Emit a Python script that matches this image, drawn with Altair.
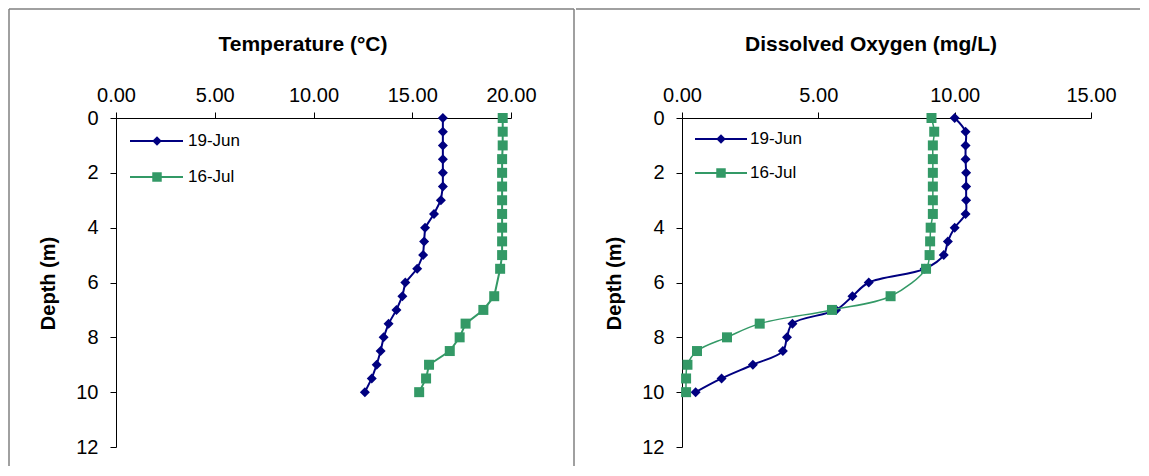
import altair as alt
import pandas as pd

FONT = "Liberation Sans, Arial, sans-serif"

series = ["19-Jun", "16-Jul"]
colors = ["#000080", "#339966"]
shapes = ["diamond", "square"]

depth_jun = [0, 0.5, 1, 1.5, 2, 2.5, 3, 3.5, 4, 4.5, 5, 5.5, 6, 6.5, 7, 7.5, 8, 8.5, 9, 9.5, 10]
depth_jul = [0, 0.5, 1, 1.5, 2, 2.5, 3, 3.5, 4, 4.5, 5, 5.5, 6.5, 7, 7.5, 8, 8.5, 9, 9.5, 10]

temp_jun = [16.55, 16.55, 16.55, 16.55, 16.55, 16.55, 16.45, 16.1, 15.65, 15.6, 15.55,
            15.25, 14.65, 14.5, 14.2, 13.8, 13.55, 13.4, 13.2, 12.95, 12.6]
temp_jul = [19.58, 19.58, 19.58, 19.55, 19.55, 19.55, 19.55, 19.55, 19.55, 19.55, 19.55,
            19.45, 19.15, 18.6, 17.7, 17.4, 16.9, 15.85, 15.7, 15.35]

do_jun = [10.0, 10.4, 10.4, 10.4, 10.42, 10.42, 10.42, 10.4, 10.0, 9.75, 9.6,
          8.9, 6.85, 6.25, 5.65, 4.05, 3.85, 3.7, 2.6, 1.45, 0.5]
do_jul = [9.15, 9.25, 9.2, 9.2, 9.2, 9.2, 9.2, 9.2, 9.12, 9.1, 9.08,
          8.95, 7.65, 5.5, 2.85, 1.65, 0.55, 0.2, 0.15, 0.15]

depth_ticks = [0, 2, 4, 6, 8, 10, 12]
temp_ticks = [0, 5, 10, 15, 20]
do_ticks = [0, 5, 10, 15]

one = pd.DataFrame({"k": [0]})


def make_df(v_jun, v_jul):
    rows = []
    for d, v in zip(depth_jun, v_jun):
        rows.append({"series": series[0], "depth": d, "value": v})
    for d, v in zip(depth_jul, v_jul):
        rows.append({"series": series[1], "depth": d, "value": v})
    return pd.DataFrame(rows)


def panel(title, v_jun, v_jul, xmax, xticks, width, interp, widths,
          title_xy, leg, frame):
    df = make_df(v_jun, v_jul)
    X = alt.X("value:Q",
              scale=alt.Scale(domain=[0, xmax], nice=False, zero=True),
              axis=alt.Axis(orient="top", values=xticks, format=".2f", title=None,
                            labelFontSize=20, labelFont=FONT, labelColor="black",
                            domainColor="black", tickColor="black", tickSize=6,
                            labelPadding=7, grid=False, labelFlush=False,
                            labelOverlap=False))
    Y = alt.Y("depth:Q",
              scale=alt.Scale(domain=[0, 12], reverse=True, nice=False),
              axis=alt.Axis(values=depth_ticks, format="d", title="Depth (m)",
                            labelFontSize=20, labelFont=FONT, labelColor="black",
                            domainColor="black", tickColor="black", tickSize=6,
                            labelPadding=12, grid=False, labelFlush=False,
                            titleFont=FONT, titleFontSize=20, titleFontWeight="bold",
                            titleColor="black", titleX=-68, titleY=165,
                            titleAngle=270, titleAlign="center",
                            titleBaseline="middle"))
    layers = []
    for s, c, sh, w in zip(series, colors, shapes, widths):
        b = alt.Chart(df).transform_filter(alt.datum.series == s)
        layers.append(b.mark_line(color=c, strokeWidth=w, interpolate=interp)
                      .encode(x=X, y=Y, order="depth:Q"))
        layers.append(b.mark_point(shape=sh, filled=True, size=100, color=c, opacity=1)
                      .encode(x=X, y=Y))
    # chart title
    layers.append(alt.Chart(one).mark_text(text=title, font=FONT, fontSize=21,
                                           fontWeight="bold", color="black",
                                           align="center", baseline="middle")
                  .encode(x=alt.value(title_xy[0]), y=alt.value(title_xy[1])))
    # legend
    lx0, lx1, lxm, ltx, lys = leg
    for s, c, sh, ly in zip(series, colors, shapes, lys):
        layers.append(alt.Chart(one).mark_rule(color=c, strokeWidth=2)
                      .encode(x=alt.value(lx0), x2=alt.value(lx1), y=alt.value(ly)))
        layers.append(alt.Chart(one).mark_point(shape=sh, filled=True, size=90,
                                                color=c, opacity=1)
                      .encode(x=alt.value(lxm), y=alt.value(ly)))
        layers.append(alt.Chart(one).mark_text(text=s, font=FONT, fontSize=17,
                                               color="black", align="left",
                                               baseline="middle")
                      .encode(x=alt.value(ltx), y=alt.value(ly)))
    # frame
    fl, ft, fr, fb, left_line, right_line = frame
    fc = "#808080"
    layers.append(alt.Chart(one).mark_rule(color=fc, strokeWidth=1.5)
                  .encode(x=alt.value(fl), x2=alt.value(fr), y=alt.value(ft)))
    if left_line:
        layers.append(alt.Chart(one).mark_rule(color=fc, strokeWidth=1.5)
                      .encode(x=alt.value(fl), y=alt.value(ft), y2=alt.value(fb)))
    if right_line:
        layers.append(alt.Chart(one).mark_rule(color=fc, strokeWidth=1.5)
                      .encode(x=alt.value(fr), y=alt.value(ft), y2=alt.value(fb)))
    return alt.layer(*layers).properties(width=width, height=329)


left = panel("Temperature (°C)", temp_jun, temp_jul, 20, temp_ticks, 395, "linear",
             [2, 2], (187, -73), (14, 67, 41, 72, [23, 59]),
             (-107, -109, 458, 348, True, True))
right = panel("Dissolved Oxygen (mg/L)", do_jun, do_jul, 15, do_ticks, 409,
              "catmull-rom", [2, 1.5], (189, -73), (13, 65, 39, 68, [21, 55]),
              (-106, -109, 458, 348, False, False))

chart = (alt.hconcat(left, right, spacing=0)
         .properties(padding=0, background="white")
         .configure_view(stroke=None))

chart.save("out.html", embed_options={"renderer": "svg", "actions": False})
